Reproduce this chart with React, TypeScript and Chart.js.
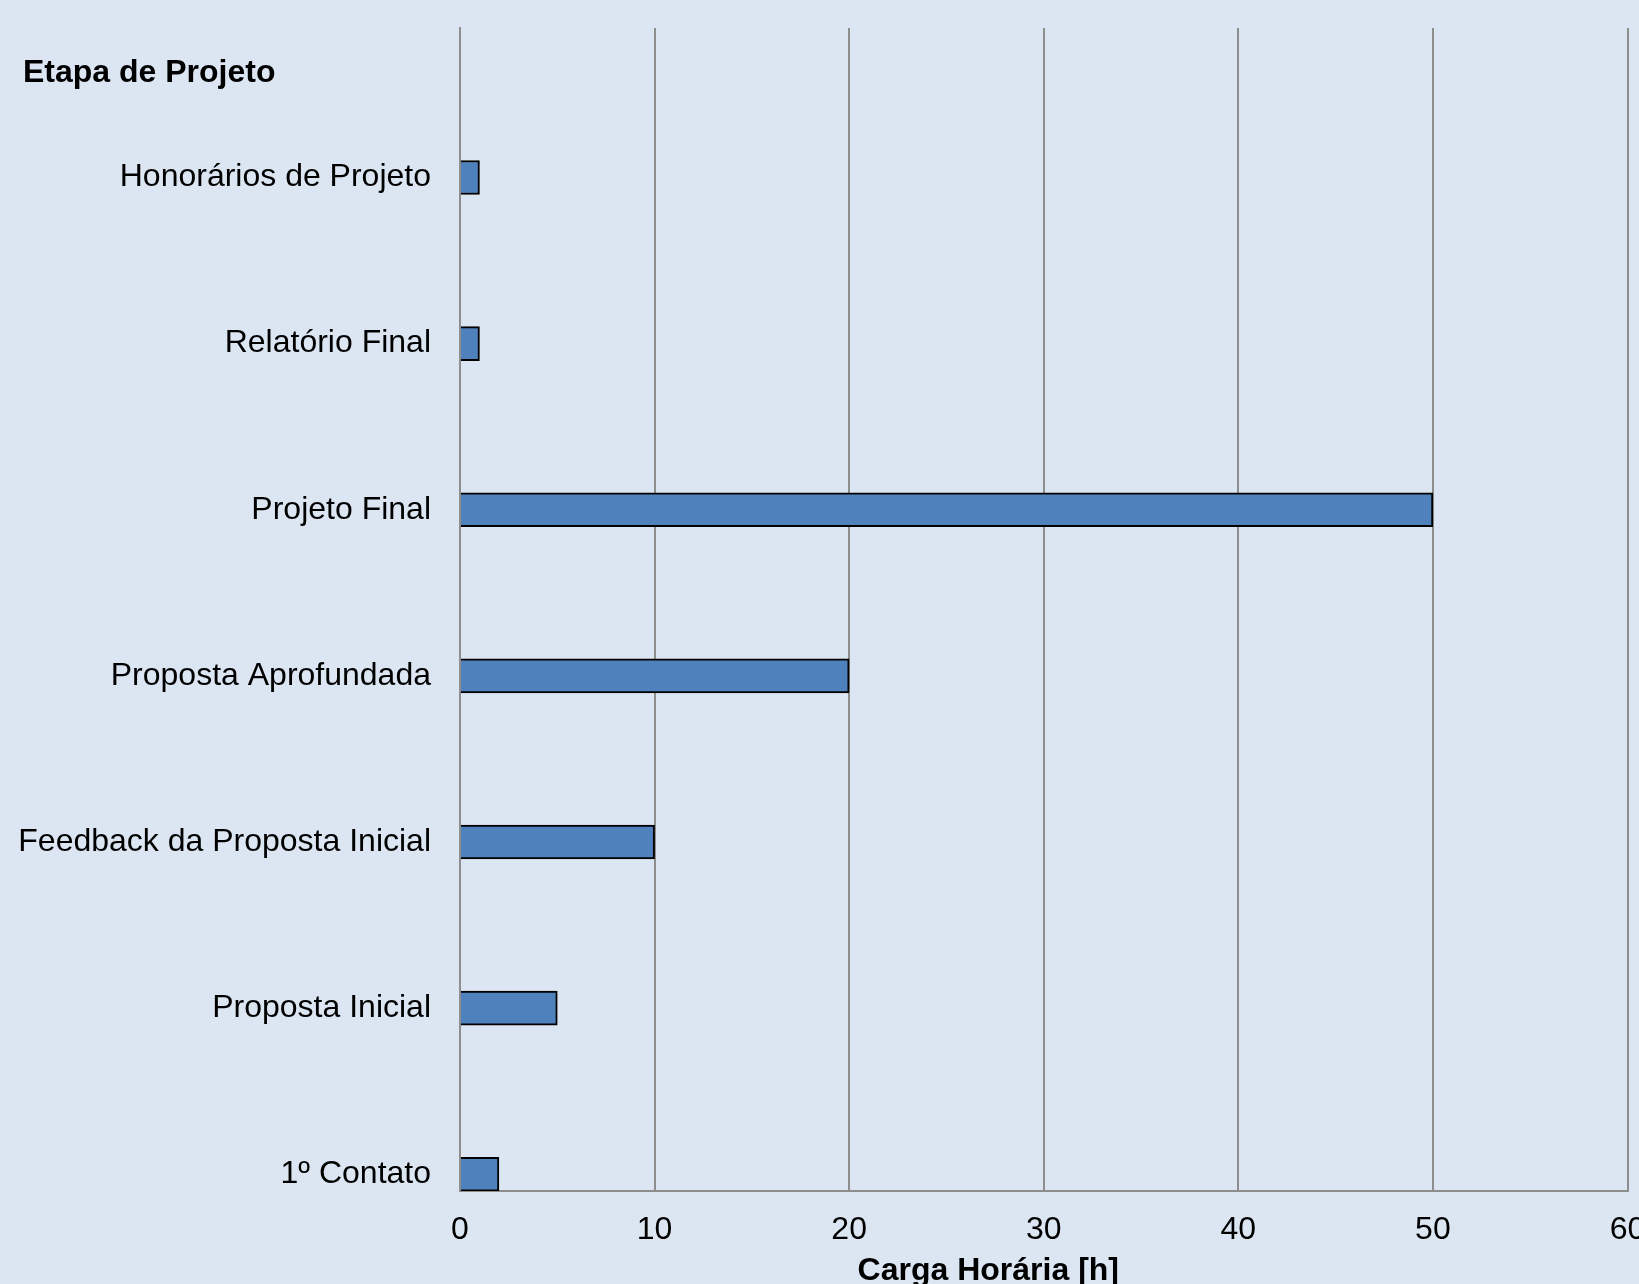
import React, { useEffect, useRef } from "react";
import { Chart, registerables } from "chart.js";

Chart.register(...registerables);

// Data (bottom to top)
const categories: string[] = [
  "1º Contato",
  "Proposta Inicial",
  "Feedback da Proposta Inicial",
  "Proposta Aprofundada",
  "Projeto Final",
  "Relatório Final",
  "Honorários de Projeto",
];
const hours: number[] = [2, 5, 10, 20, 50, 1, 1];
const xTicks: number[] = [0, 10, 20, 30, 40, 50, 60];
const yAxisTitle = "Etapa de Projeto";
const xAxisTitle = "Carga Horária [h]";

const BG = "#DCE6F2";
const BAR = "#4F81BD";
const GRID = "#8E8E8E";
const FONT = "'Liberation Sans', Arial, sans-serif";

export default function App() {
  const ref = useRef<HTMLCanvasElement | null>(null);

  useEffect(() => {
    if (!ref.current) return;
    const titles = {
      id: "customTitles",
      afterDraw(chart: any) {
        const ctx = chart.ctx;
        const area = chart.chartArea;
        ctx.save();
        ctx.fillStyle = "#000";
        ctx.font = `bold 32px ${FONT}`;
        ctx.textBaseline = "middle";
        ctx.textAlign = "left";
        ctx.fillText(yAxisTitle, 23, 73);
        ctx.textAlign = "center";
        ctx.fillText(xAxisTitle, area.left + (area.right - area.left) * 0.4525, area.bottom + 80);
        ctx.restore();
      },
    };
    const chart = new Chart(ref.current, {
      type: "bar",
      data: {
        datasets: [
          {
            data: hours.map((v, i) => ({ x: v, y: i })),
            backgroundColor: BAR,
            borderColor: "#000",
            borderWidth: 2,
            barThickness: 34,
          },
        ],
      },
      options: {
        indexAxis: "y",
        animation: false,
        responsive: false,
        maintainAspectRatio: false,
        layout: { padding: { left: 0, right: 32.5, top: 28, bottom: 0 } },
        plugins: {
          legend: { display: false },
          tooltip: { enabled: false },
        },
        scales: {
          x: {
            type: "linear",
            position: "bottom",
            min: 0,
            max: 60,
            offset: false,
            afterBuildTicks: (s: any) => {
              s.ticks = xTicks.map((v) => ({ value: v }));
            },
            afterFit: (s: any) => {
              s.height = 93;
              s.paddingLeft = 0;
              s.paddingRight = 0;
            },
            grid: { display: true, color: GRID, lineWidth: 2, drawTicks: false, offset: false },
            border: { display: true, color: GRID, width: 2 },
            ticks: {
              color: "#000",
              font: { family: FONT, size: 32 },
              padding: 20,
              maxRotation: 0,
              autoSkip: false,
            },
          },
          y: {
            type: "linear",
            position: "left",
            min: -0.1006,
            max: 6.9,
            offset: false,
            afterBuildTicks: (s: any) => {
              s.ticks = categories.map((_, i) => ({ value: i }));
            },
            afterFit: (s: any) => {
              s.width = 460;
              s.paddingTop = 0;
              s.paddingBottom = 0;
            },
            grid: { display: false, drawTicks: false, offset: false },
            border: { display: true, color: GRID, width: 2 },
            ticks: {
              color: "#000",
              font: { family: FONT, size: 32 },
              padding: 29,
              autoSkip: false,
              callback: (v: any) => categories[Math.round(Number(v))] ?? "",
            },
          },
        },
      },
      plugins: [titles],
    } as any);
    return () => chart.destroy();
  }, []);

  return (
    <div
      style={{
        position: "fixed",
        left: 0,
        top: 0,
        width: 1639,
        height: 1284,
        overflow: "hidden",
        background: BG,
      }}
    >
      <canvas ref={ref} width={1660} height={1284} style={{ display: "block", width: 1660, height: 1284 }} />
    </div>
  );
}
